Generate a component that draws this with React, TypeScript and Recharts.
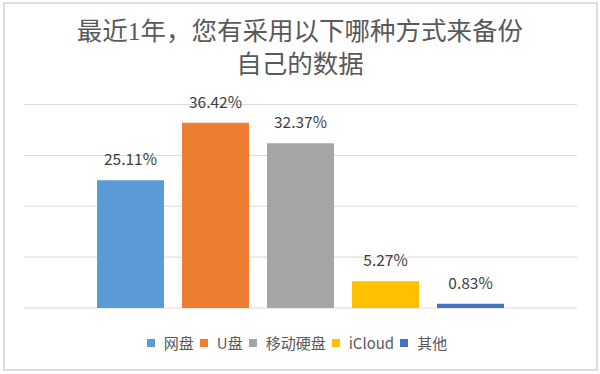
import { Bar, BarChart, CartesianGrid, LabelList, Legend, XAxis, YAxis } from "recharts";

const seriesNames = ["网盘", "U盘", "移动硬盘", "iCloud", "其他"];
const seriesValues = [25.11, 36.42, 32.37, 5.27, 0.83];
const seriesColors = ["#5B9BD5", "#ED7D31", "#A5A5A5", "#FFC000", "#4472C4"];
const yTicks = [0, 10, 20, 30, 40];
const titleLines = ["最近1年，您有采用以下哪种方式来备份", "自己的数据"];

const row: Record<string, string | number> = { name: "备份方式" };
seriesNames.forEach((name, i) => {
  row[name] = seriesValues[i];
});
const chartData = [row];

const textFont = '"Noto Sans CJK SC", "Noto Sans", sans-serif';

function LegendContent({ payload }: { payload?: Array<{ value: string; color?: string }> }) {
  // keep the series order, not the sorted one
  const items = [...(payload ?? [])].sort(
    (a, b) => seriesNames.indexOf(a.value) - seriesNames.indexOf(b.value)
  );
  return (
    <div
      style={{
        display: "flex",
        justifyContent: "center",
        alignItems: "center",
        fontFamily: textFont,
        fontSize: 15,
        color: "#595959",
        lineHeight: "20px",
      }}
    >
      {items.map((item) => (
        <div key={item.value} style={{ display: "flex", alignItems: "center", marginRight: 6 }}>
          <span style={{ width: 8, height: 8, background: item.color, marginRight: 9 }} />
          <span>{item.value}</span>
        </div>
      ))}
    </div>
  );
}

export default function App() {
  return (
    <div style={{ position: "absolute", left: 0, top: 0, width: 600, height: 374, background: "#fff" }}>
      <div
        style={{
          position: "absolute",
          left: 3,
          top: 2,
          width: 591,
          height: 365,
          border: "2px solid #dcdcdc",
        }}
      />
      <div
        style={{
          position: "absolute",
          left: 0,
          top: 15,
          width: 600,
          textAlign: "center",
          fontFamily: '"Liberation Serif", "Noto Sans CJK SC", serif',
          fontSize: 25.5,
          lineHeight: "33px",
          color: "#595959",
        }}
      >
        {titleLines.map((line) => (
          <div key={line}>{line}</div>
        ))}
      </div>
      <div style={{ position: "absolute", left: 0, top: 0 }}>
        <BarChart
          width={600}
          height={374}
          data={chartData}
          margin={{ top: 104.5, right: 23, bottom: 46, left: 24 }}
          barSize={67}
          barGap={18}
        >
          <CartesianGrid vertical={false} stroke="#d9d9d9" />
          <XAxis dataKey="name" hide />
          <YAxis hide domain={[0, 40]} ticks={yTicks} />
          <Legend
            layout="vertical"
            align="center"
            verticalAlign="bottom"
            wrapperStyle={{ top: 333, bottom: "auto", left: 0, width: 600 }}
            content={(props: any) => <LegendContent payload={props.payload} />}
          />
          {seriesNames.map((name, i) => (
            <Bar key={name} dataKey={name} fill={seriesColors[i]} isAnimationActive={false}>
              <LabelList
                dataKey={name}
                position="top"
                offset={15}
                fill="#404040"
                fontSize={15.5}
                fontFamily={textFont}
                formatter={(v: any) => `${Number(v).toFixed(2)}%`}
              />
            </Bar>
          ))}
        </BarChart>
      </div>
    </div>
  );
}
